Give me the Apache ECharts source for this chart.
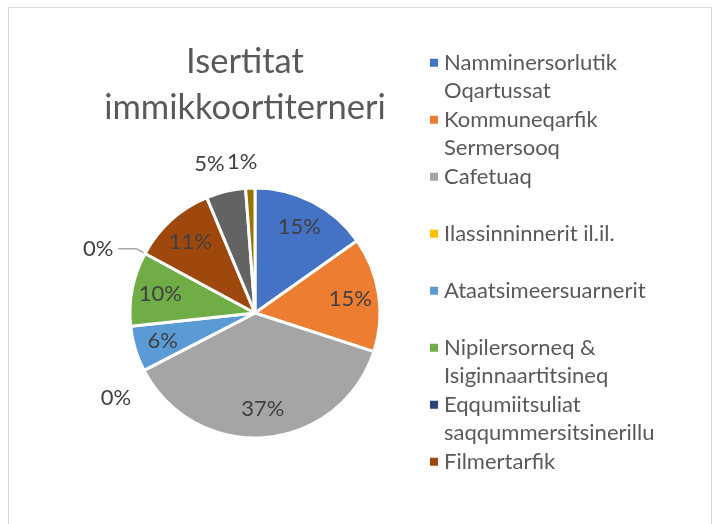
<!DOCTYPE html>
<html>
<head>
<meta charset="utf-8">
<script src="https://cdn.jsdelivr.net/npm/echarts@6/dist/echarts.min.js"></script>
<style>
html, body { margin: 0; padding: 0; background: #fff; overflow: hidden; }
#frame { position: absolute; left: 8px; top: 7px; width: 704px; height: 540px; border: 1px solid #d9d9d9; box-sizing: border-box; }
#chart { position: absolute; left: 0; top: 0; width: 718px; height: 524px; }
</style>
</head>
<body>
<div id="frame"></div>
<div id="chart"></div>
<script>
var titleText = 'Isertitat\nimmikkoortiterneri';

var categories = [
	'Namminersorlutik\nOqartussat',
	'Kommuneqarfik\nSermersooq',
	'Cafetuaq',
	'Ilassinninnerit il.il.',
	'Ataatsimeersuarnerit',
	'Nipilersorneq &\nIsiginnaartitsineq',
	'Eqqumiitsuliat\nsaqqummersitsinerillu',
	'Filmertarfik',
	'Allat',
	'Allat 2'
];
// share of each slice (percent)
var values = [15.2, 14.8, 37.4, 0, 5.9, 9.6, 0, 10.8, 5.1, 1.2];

var colors = ['#4472C4', '#ED7D31', '#A5A5A5', '#FFC000', '#5B9BD5',
	'#70AD47', '#264478', '#9E480E', '#636363', '#997300'];

// how many entries are visible in the legend box
var legendCount = 8;

// label placement for the small slices: [outer line length, second line length, show line]
var outsideLabels = {
	3: [20, 0, false],
	6: [10, 18, true],
	8: [26, 0, false],
	9: [26, 0, false]
};
// small nudges so the outside labels sit where the original put them
var labelNudge = {
	3: [10, 18],
	8: [10, -2],
	9: [13, 0]
};

var font = 'Lato, "Open Sans", sans-serif';

var mainData = [];
var labelData = [];
for (var i = 0; i < categories.length; i++) {
	mainData.push({ name: categories[i], value: values[i] });
	var item = { name: categories[i], value: values[i] };
	if (outsideLabels[i]) {
		var o = outsideLabels[i];
		item.label = { position: 'outside' };
		item.labelLine = { show: o[2], length: o[0], length2: o[1] };
	} else {
		item.label = { position: 'inside' };
		item.labelLine = { show: false };
	}
	labelData.push(item);
}

var myChart = echarts.init(document.getElementById('chart'));

option = {
	color: colors,
	backgroundColor: 'transparent',
	animation: false,
	title: {
		text: titleText,
		left: 245,
		top: 39,
		padding: 0,
		textAlign: 'center',
		textStyle: {
			fontFamily: font,
			fontSize: 34.5,
			fontWeight: 'normal',
			color: '#595959',
			lineHeight: 46
		}
	},
	legend: {
		orient: 'vertical',
		left: 428,
		top: 20,
		padding: 0,
		itemGap: -28.5,
		itemWidth: 10,
		itemHeight: 10,
		icon: 'rect',
		data: categories.slice(0, legendCount),
		formatter: function(name) {
			// blank first line keeps the marker level with the first text line
			return ' \n' + (name.indexOf('\n') == -1 ? name + '\n ' : name);
		},
		textStyle: {
			fontFamily: font,
			fontSize: 22,
			color: '#595959',
			lineHeight: 28.5
		},
		selectedMode: false
	},
	series: [{
		name: 'slices',
		type: 'pie',
		center: [255, 313],
		radius: 125,
		startAngle: 90,
		silent: true,
		itemStyle: {
			borderColor: '#fff',
			borderWidth: 3
		},
		label: { show: false },
		labelLine: { show: false },
		data: mainData
	}, {
		name: 'labels',
		type: 'pie',
		center: [255, 313],
		radius: [62, 125],
		startAngle: 90,
		silent: true,
		avoidLabelOverlap: false,
		percentPrecision: 0,
		itemStyle: {
			color: 'rgba(0,0,0,0)',
			borderWidth: 0
		},
		label: {
			show: true,
			formatter: '{d}%',
			fontFamily: font,
			fontSize: 22,
			color: '#404040'
		},
		labelLine: {
			lineStyle: { color: '#a6a6a6', width: 1.5 }
		},
		labelLayout: function(params) {
			var n = labelNudge[params.dataIndex];
			if (n) {
				return { dx: n[0], dy: n[1] };
			}
			return {};
		},
		data: labelData
	}]
};

myChart.setOption(option);
</script>
</body>
</html>
